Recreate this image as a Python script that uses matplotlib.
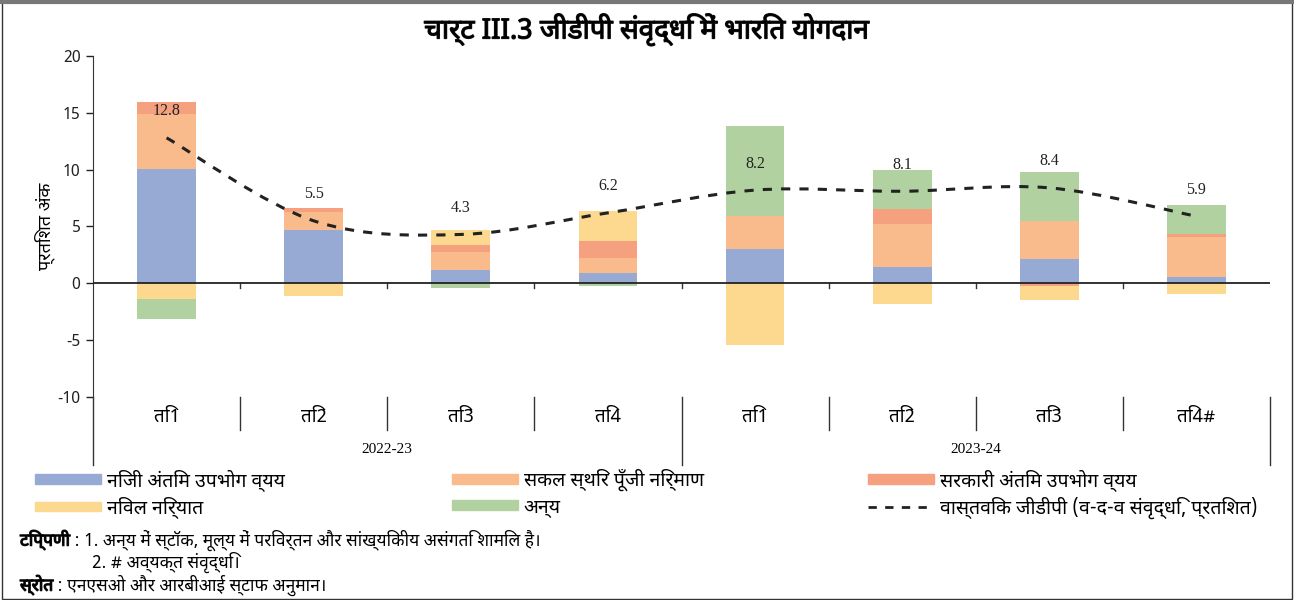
import numpy as np
import matplotlib
matplotlib.use("Agg")
import matplotlib.pyplot as plt
import matplotlib.patheffects as pe
from matplotlib import font_manager as fm
from matplotlib.ft2font import FT2Font
from matplotlib.path import Path
from matplotlib.patches import PathPatch, Patch, Rectangle
from matplotlib.lines import Line2D

# ----------------------------------------------------
# data
# ----------------------------------------------------
quarters = ["ति1", "ति2", "ति3", "ति4", "ति1", "ति2", "ति3", "ति4#"]
years = ["2022-23", "2023-24"]

pvt_cons = [10.1, 4.7, 1.15, 0.9, 3.05, 1.45, 2.15, 0.55]
gfcf = [4.8, 1.55, 1.6, 1.3, 2.9, 3.8, 3.3, 3.5]
govt_cons = [1.05, 0.35, 0.6, 1.5, 0.0, 1.25, -0.25, 0.25]
net_exports = [-1.4, -1.15, 1.3, 2.7, -5.45, -1.8, -1.2, -0.9]
others = [-1.7, 0.0, -0.4, -0.25, 7.85, 3.45, 4.35, 2.6]
real_gdp = [12.8, 5.5, 4.3, 6.2, 8.2, 8.1, 8.4, 5.9]

series_names = ["निजी अंतिम उपभोग व्यय", "सकल स्थिर पूँजी निर्माण",
                "सरकारी अंतिम उपभोग व्यय", "निवल निर्यात", "अन्य"]
line_name = "वास्तविक जीडीपी (व-द-व संवृद्धि, प्रतिशत)"
colors = ["#97AAD4", "#F9BB8B", "#F5A07E", "#FDD88F", "#B1D2A0"]

title = "चार्ट III.3 जीडीपी संवृद्धि में भारित योगदान"
ylabel = "प्रतिशत अंक"
note_head = "टिप्पणी"
note1 = " : 1. अन्य में स्टॉक, मूल्य में परिवर्तन और सांख्यिकीय असंगति शामिल है।"
note2 = "2. # अव्यक्त संवृद्धि।"
source_head = "स्रोत"
source = " : एनएसओ और आरबीआई स्टाफ अनुमान।"


# ----------------------------------------------------
# pick an installed font that has devanagari glyphs
# ----------------------------------------------------
def find_deva_font():
    found = []
    for f in fm.fontManager.ttflist:
        try:
            if 0x0915 in FT2Font(f.fname).get_charmap():
                found.append(f.name)
        except Exception:
            pass
    if not found:
        return None
    pref = ["Noto Sans Devanagari", "Lohit Devanagari", "FreeSans", "Mukta", "Hind",
            "Gargi", "Kalimati", "Samanata", "Sarai", "Nakula", "Sahadeva"]
    for p in pref:
        if p in found:
            return p
    plain = [n for n in found if "Mono" not in n and "Serif" not in n]
    return (plain or found)[0]


deva = find_deva_font()
fams = ([deva] if deva else []) + ["DejaVu Sans"]
plt.rcParams['font.family'] = fams
plt.rcParams['axes.unicode_minus'] = False

# fake-bold helper (the devanagari face may have no bold file)
bold_fx = [pe.withStroke(linewidth=0.9, foreground="#1a1a1a")]

# ----------------------------------------------------
# figure
# ----------------------------------------------------
fig = plt.figure(figsize=(12.94, 6.0), dpi=100)
ax = fig.add_axes([93 / 1294, 1 - 397 / 600, (1270 - 93) / 1294, (397 - 56) / 600])

x = np.arange(len(quarters))
series = [pvt_cons, gfcf, govt_cons, net_exports, others]
pos_bottom = np.zeros(len(x))
neg_bottom = np.zeros(len(x))
for vals, c in zip(series, colors):
    v = np.array(vals, dtype=float)
    bottom = np.where(v >= 0, pos_bottom, neg_bottom)
    ax.bar(x, v, width=0.4, bottom=bottom, color=c, linewidth=0, zorder=2)
    pos_bottom = pos_bottom + np.where(v > 0, v, 0)
    neg_bottom = neg_bottom + np.where(v < 0, v, 0)

# smoothed gdp line (catmull-rom as cubic bezier, like excel "smoothed line")
g = np.array(real_gdp, dtype=float)
pts = np.column_stack([x, g])
verts = [pts[0]]
codes = [Path.MOVETO]
for i in range(len(pts) - 1):
    p0 = pts[i - 1] if i > 0 else pts[i]
    p1, p2 = pts[i], pts[i + 1]
    p3 = pts[i + 2] if i + 2 < len(pts) else pts[i + 1]
    verts += [p1 + (p2 - p0) / 6, p2 - (p3 - p1) / 6, p2]
    codes += [Path.CURVE4] * 3
ax.add_patch(PathPatch(Path(verts, codes), fill=False, edgecolor="#222222",
                       lw=2.2, linestyle=(0, (3, 3)), zorder=4))
for xi, gi in zip(x, real_gdp):
    ax.annotate(f"{gi:.1f}", (xi, gi), xytext=(0, 19), textcoords="offset points",
                ha="center", va="center", fontsize=11.5,
                family="Liberation Serif", color="#222222", zorder=5)

ax.set_xlim(-0.5, len(x) - 0.5)
ax.set_ylim(-10, 20)
ax.set_yticks(np.arange(-10, 21, 5))
ax.tick_params(axis="y", length=5, width=1, labelsize=11.5, pad=4, colors="#222222")
ax.set_ylabel(ylabel, fontsize=13, labelpad=2)

for s in ["top", "right", "bottom"]:
    ax.spines[s].set_visible(False)
ax.spines["left"].set_color("#333333")
ax.axhline(0, color="#222222", lw=1.3, zorder=3)

# category axis (quarters + years) below the plot
ax.set_xticks(x)
ax.set_xticklabels(quarters, fontsize=13.5)
ax.tick_params(axis="x", length=0, pad=8)
trans = ax.get_xaxis_transform()
for b in np.arange(0.5, len(x) - 1, 1.0):
    ax.plot([b, b], [0, -0.45], color="#333333", lw=1, clip_on=False)  # tick on zero line
    depth = -0.2 if b == 3.5 else -0.097
    ax.plot([b, b], [0, depth], color="#333333", lw=1, transform=trans, clip_on=False)
ax.plot([len(x) - 0.5] * 2, [0, -0.2], color="#333333", lw=1, transform=trans, clip_on=False)
ax.plot([-0.5] * 2, [0, -0.2], color="#333333", lw=1, transform=trans, clip_on=False)
for k, yr in enumerate(years):
    ax.text(1.5 + 4 * k, -0.155, yr, transform=trans, ha="center", va="center",
            fontsize=11, family="Liberation Serif")

# title
fig.text(0.5, 1 - 30 / 600, title, ha="center", va="center", fontsize=20,
         fontweight="bold", path_effects=bold_fx)

# legend: three columns laid out row by row
handles = [Patch(color=c) for c in colors] + \
          [Line2D([], [], color="#222222", lw=2, linestyle=(0, (3, 3)))]
labels = series_names + [line_name]
col_x = [21 / 1294, 438 / 1294, 854 / 1294]
for k in range(3):
    fig.legend([handles[k], handles[k + 3]], [labels[k], labels[k + 3]],
               loc="upper left", bbox_to_anchor=(col_x[k], 1 - 455 / 600),
               frameon=False, fontsize=14, handlelength=3.4, handleheight=0.4,
               handletextpad=0.3, labelspacing=0.3, borderpad=0.2)

# notes
fs = 12.5
t1 = fig.text(20 / 1294, 1 - 540 / 600, note_head, fontsize=fs, fontweight="bold",
              va="center", path_effects=bold_fx)
ax.annotate(note1, xy=(1, 0.5), xycoords=t1, va="center", fontsize=fs, annotation_clip=False)
fig.text(92 / 1294, 1 - 562 / 600, note2, fontsize=fs, va="center")
t2 = fig.text(20 / 1294, 1 - 585 / 600, source_head, fontsize=fs, fontweight="bold",
              va="center", path_effects=bold_fx)
ax.annotate(source, xy=(1, 0.5), xycoords=t2, va="center", fontsize=fs, annotation_clip=False)

# outer frame
fig.add_artist(Rectangle((0.0015, 0.002), 0.997, 0.994, transform=fig.transFigure,
                         fill=False, edgecolor="#333333", lw=1))
fig.add_artist(Line2D([0, 1], [0.996, 0.996], transform=fig.transFigure,
                      color="#777777", lw=3))

fig.savefig("out.png", dpi=100)
